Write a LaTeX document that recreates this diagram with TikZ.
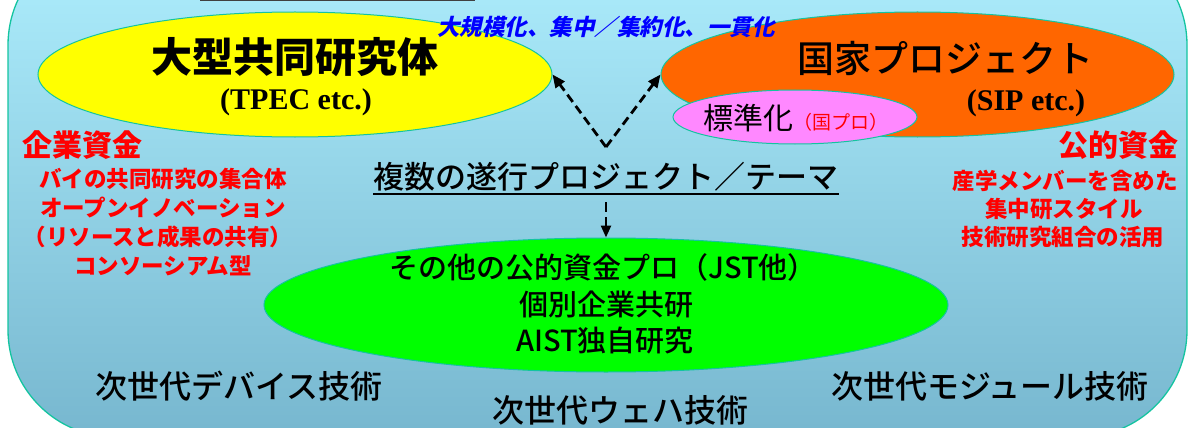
\documentclass[tikz,border=0pt]{standalone}
\usepackage{fontspec}
\setmainfont{Liberation Serif}
\newfontfamily\jp{Noto Sans CJK JP}
\newfontfamily\jpm[UprightFont={* Medium}]{Noto Sans CJK JP}
\newfontfamily\jpsl[FakeSlant=0.22]{Noto Sans CJK JP}
\usetikzlibrary{shapes.geometric,arrows.meta}
\definecolor{bgtop}{RGB}{175,239,254}
\definecolor{bgbot}{RGB}{119,183,207}
\definecolor{edgec}{RGB}{20,196,160}
\definecolor{yelc}{RGB}{255,255,0}
\definecolor{orgc}{RGB}{255,102,0}
\definecolor{pnkc}{RGB}{255,136,255}
\definecolor{grnc}{RGB}{0,255,0}
\definecolor{bluc}{RGB}{0,0,255}
\definecolor{redc}{RGB}{255,0,0}
\definecolor{titlec}{RGB}{64,64,64}
\tikzset{
  ell/.style={ellipse, draw=edgec, line width=1pt, inner sep=0pt},
  txt/.style={inner sep=0pt, align=center},
  redhead/.style={txt, text=redc, font=\jp\bfseries\fontsize{30pt}{34pt}\selectfont},
  redline/.style={txt, text=redc, font=\jp\bfseries\fontsize{22.5pt}{26pt}\selectfont},
  greenline/.style={txt, font=\jpm\fontsize{29pt}{33pt}\selectfont},
  techlabel/.style={txt, font=\jpm\fontsize{32pt}{36pt}\selectfont},
  dasharrow/.style={draw, line width=2.8pt, dash pattern=on 9pt off 5pt, -{Triangle[length=13pt,width=11pt]}},
}
\begin{document}
\begin{tikzpicture}[x=1pt,y=-1pt]
\useasboundingbox (0,0) rectangle (1192,428);
% background panel
\path[draw=edgec, line width=1.3pt, top color=bgtop, bottom color=bgbot, rounded corners=107pt] (8,-62) rectangle (1187,437);
% bottom edge of the title box above
\draw[titlec, line width=1.8pt] (200,0.6) -- (475,0.6);

% ellipses
\node[ell, fill=yelc, minimum width=514pt, minimum height=125pt] (yel) at (295,74.5) {};
\node[ell, fill=orgc, minimum width=513pt, minimum height=125pt] (org) at (917.5,74.5) {};
\node[ell, fill=pnkc, minimum width=244pt, minimum height=54pt] (pnk) at (795,117) {};
\node[ell, fill=grnc, minimum width=684pt, minimum height=134pt] (grn) at (606,305) {};

% ellipse texts
\node[txt, font=\jp\bfseries\fontsize{41pt}{45pt}\selectfont] (t1) at (295,57) {大型共同研究体};
\node[txt, font=\bfseries\fontsize{30pt}{34pt}\selectfont] (t2) at (296,102) {(TPEC etc.)};
\node[txt, font=\jpm\fontsize{37pt}{41pt}\selectfont] (t3) at (945,58) {国家プロジェクト};
\node[txt, font=\bfseries\fontsize{30pt}{34pt}\selectfont] (t4) at (1026,103) {(SIP etc.)};
\node[txt, font=\jp\fontsize{30pt}{34pt}\selectfont] (t5) at (796,118) {標準化{\color{redc}\fontsize{19pt}{21pt}\selectfont（国プロ）}};

% blue text
\node[txt, text=bluc, font=\jpsl\bfseries\fontsize{22.5pt}{26pt}\selectfont] (blue) at (606,27) {大規模化、集中／集約化、一貫化};

% central theme
\node[txt, font=\jpm\fontsize{31pt}{35pt}\selectfont] (theme) at (606,177) {複数の遂行プロジェクト／テーマ};
\draw[line width=1.6pt] ([yshift=-2pt]theme.south west) -- ([yshift=-2pt]theme.south east);

% arrows
\coordinate (apex) at (606,147);
\draw[dasharrow] (apex) -- (yel.east);
\draw[dasharrow] (apex) -- (org.west);
\coordinate (dtop) at (606,202);
\draw[dasharrow, line width=2.4pt, dash pattern=on 10pt off 5pt, -{Triangle[length=12pt,width=10pt]}] (dtop) -- (grn.north);

% green texts
\node[greenline] (g1) at (603,267) {その他の公的資金プロ（JST他）};
\node[greenline] (g2) at (606,305) {個別企業共研};
\node[greenline] (g3) at (605,341) {AIST独自研究};

% left red texts
\node[redhead] (l1) at (83,145) {企業資金};
\node[redline] (l2) at (163,179) {バイの共同研究の集合体};
\node[redline] (l3) at (163,208) {オープンイノベーション};
\node[redline] (l4) at (158,237) {（リソースと成果の共有）};
\node[redline] (l5) at (163,266) {コンソーシアム型};

% right red texts
\node[redhead] (r1) at (1118,145) {公的資金};
\node[redline] (r2) at (1065,181) {産学メンバーを含めた};
\node[redline] (r3) at (1064,209) {集中研スタイル};
\node[redline] (r4) at (1063,237) {技術研究組合の活用};

% technology labels
\node[techlabel] (b1) at (239,386) {次世代デバイス技術};
\node[techlabel] (b2) at (620,410) {次世代ウェハ技術};
\node[techlabel] (b3) at (990,386) {次世代モジュール技術};
\end{tikzpicture}
\end{document}
